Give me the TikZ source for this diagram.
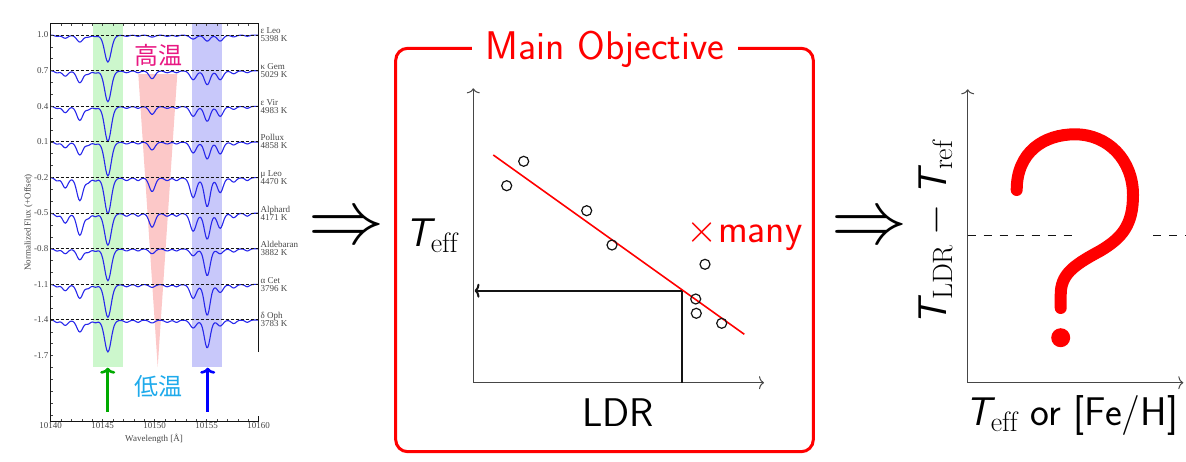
\RequirePackage{fix-cm}
\documentclass[tikz,border=0pt]{standalone}
\usepackage{amsmath}
\usepackage{fontspec}
\usepackage{xcolor}
\newfontfamily\plotfont{Liberation Serif}
\newfontfamily\jpfont{Noto Sans CJK JP}
\usetikzlibrary{arrows.meta}
\definecolor{ldrRed}{RGB}{255,0,0}
\definecolor{ldrInk}{RGB}{20,20,20}
\definecolor{ldrAxis}{RGB}{70,70,70}
\definecolor{specBlue}{RGB}{40,40,235}
\definecolor{bandGreen}{RGB}{204,247,204}
\definecolor{bandBlue}{RGB}{200,200,250}
\definecolor{bandPink}{RGB}{252,200,200}
\definecolor{arrGreen}{RGB}{0,170,0}
\definecolor{arrBlue}{RGB}{0,0,255}
\definecolor{hotPink}{RGB}{232,24,130}
\definecolor{coolCyan}{RGB}{30,170,235}
\newcommand{\Tsf}{\textsf{\itshape T}}
\newcommand{\bigfont}{\fontsize{40}{47}\selectfont}
\tikzset{
  specline/.style={specBlue,line width=1.1pt},
  contline/.style={ldrInk,dashed,dash pattern=on 3pt off 2pt,line width=0.7pt},
  frameline/.style={ldrInk,line width=1.3pt},
  ticklab/.style={font=\plotfont\fontsize{9}{9}\selectfont,text=ldrAxis,inner sep=1pt},
  starlab/.style={font=\plotfont\fontsize{9}{8}\selectfont,text=ldrAxis,align=left,anchor=west,inner sep=1pt},
  axisline/.style={ldrAxis,line width=1pt,-{To[length=5pt,width=13pt]}},
  readline/.style={ldrInk,line width=2pt},
  datapt/.style={ldrInk,line width=1.2pt},
  bigsans/.style={font=\sffamily\bigfont,inner sep=0pt},
  thenarrow/.style={font=\fontsize{76}{76}\selectfont,inner sep=0pt},
  pickarrow/.style={line width=2.6pt,-{To[length=6pt,width=15pt]}},
  declare function={lc(\u,\c,\w)=min(abs(\u-\c)/\w,4);
    gp(\t)=1/(1+\t^2+\t^4/2+\t^6/6);
    lp(\u,\c,\w)=gp(lc(\u,\c,\w));}
}

\begin{document}
\begin{tikzpicture}[x=1pt,y=-1pt]
  \useasboundingbox (0,0) rectangle (1186,461);

  % spectra panel
  \fill[bandGreen] (93.3,23.3) rectangle (123.3,367.3);
  \fill[bandBlue] (192,23.3) rectangle (222,367.3);
  \fill[bandPink] (138.3,74) -- (177.3,74) -- (157.7,367) -- cycle;
  \foreach \base/\lA/\lB/\lC/\lD/\lE/\lF/\mf in {
      35/7/27/2/4/6/6/0.6, 70.6/12/31/8/9/14/9/1, 106.2/14/35/8/10/15/10/1,
      141.8/13/34/8/11/17/12/1, 177.4/23/36/14/20/29/15/1.5, 213/22/32/14/18/26/15/1.5,
      248.6/11/32/5/7/27/5/1.1, 284.2/14/33/3/14/31/8/1.2, 319.8/12/32/3/8/28/6/1.2} {
    \draw[specline] plot[domain=0:20,samples=201] ({50.7+10.4*\x},
      {\base+\mf*(2*lp(\x,0.6,0.3)+3*lp(\x,3.6,0.35)+2*lp(\x,4.3,0.3)
       +2*lp(\x,7.3,0.35)+2*lp(\x,8.4,0.3)+2*lp(\x,11.2,0.35)+2*lp(\x,12.1,0.3)
       +3*lp(\x,17.6,0.35)+2*lp(\x,18.9,0.3))
       +0.45*\lA*lp(\x,1.4,0.38)+\lA*lp(\x,2.8,0.42)+\lB*lp(\x,5.5,0.45)+\lC*lp(\x,9.75,0.4)
       +\lD*lp(\x,13.7,0.42)+\lE*lp(\x,15.05,0.4)+\lF*lp(\x,16.3,0.4)});
    \draw[contline] (50.7,\base) -- (258.7,\base);
  }
  \foreach \base/\nm/\tk [count=\i] in {35/ε Leo/5398, 70.6/κ Gem/5029, 106.2/ε Vir/4983,
      141.8/Pollux/4858, 177.4/μ Leo/4470, 213/Alphard/4171, 248.6/Aldebaran/3882,
      284.2/α Cet/3796, 319.8/δ Oph/3783}
    \node[starlab] (star\i) at (259.5,\base) {\nm\\\tk~K};
  \foreach \v [count=\k from 0] in {1.0,0.7,0.4,0.1,-0.2,-0.5,-0.8,-1.1,-1.4,-1.7}
    \node[ticklab,anchor=east] (yt\k) at (49.5,35+35.6*\k) {\v};
  \foreach \k in {-1,...,32}
    \draw[ldrAxis,line width=0.5pt] (50.7,35+11.87*\k) -- ++(2.5,0);
  \foreach \k in {1,...,19} {
    \draw[ldrAxis,line width=0.5pt] (50.7+10.4*\k,421.7) -- ++(0,-2.5);
    \draw[ldrAxis,line width=0.5pt] (50.7+10.4*\k,23.3) -- ++(0,2.5);
  }
  \foreach \w [count=\k from 0] in {10140,10145,10150,10155,10160}
    \node[ticklab,anchor=north] (xt\k) at (50.7+52*\k,421) {\w};
  \draw[frameline] (258.7,352) -- (258.7,23.3) -- (50.7,23.3) -- (50.7,421.7) -- (258.7,421.7) -- (258.7,416);
  \node[ticklab] (wavelab) at (154,439) {Wavelength [Å]};
  \node[ticklab,rotate=90] (fluxlab) at (28.3,222.5) {Normalized Flux (+Offset)};
  \node[font=\jpfont\fontsize{24}{24}\selectfont,text=hotPink,inner sep=0pt] (hot) at (158,55) {高温};
  \node[font=\jpfont\fontsize{24}{24}\selectfont,text=coolCyan,inner sep=0pt] (cool) at (158,386) {低温};
  \coordinate (gfoot) at (107.7,411.7);
  \coordinate (bfoot) at (207.7,411.7);
  \draw[pickarrow,arrGreen] (gfoot) -- ++(0,-44);
  \draw[pickarrow,arrBlue] (bfoot) -- ++(0,-44);

  % main objective panel
  \node[thenarrow] (then1) at (346.5,230) {$\Rightarrow$};
  \draw[ldrRed,line width=3pt,rounded corners=12pt] (395.7,48.3) rectangle (813.3,451.7);
  \node[bigsans,text=ldrRed,fill=white,inner xsep=14pt,inner ysep=2pt,anchor=base] (title) at (605,59.3) {Main Objective};
  \coordinate (mo) at (473.3,382.7);
  \draw[axisline] (mo) -- (473.3,88.3);
  \draw[axisline] (mo) -- (764,382.7);
  \draw[ldrRed,line width=1.6pt] (493.3,155) -- (744.3,334.3);
  \foreach \px/\py [count=\i] in {506.7/185.7, 523.7/161.3, 586.7/210.7, 612/245,
      705/264.3, 695.7/299, 696.3/313.3, 721.7/323.3}
    \draw[datapt] (\px,\py) circle[radius=5pt];
  \coordinate (ldrfoot) at (681.7,382.7);
  \coordinate (hit) at (681.7,290.7);
  \coordinate (teffhit) at (474.5,290.7);
  \draw[readline] (ldrfoot) -- (hit);
  \draw[readline,-{To[length=5pt,width=14pt]}] (hit) -- (teffhit);
  \node[bigsans,anchor=base west] (teff) at (405,246.7) {$\Tsf_{\mathrm{eff}}$};
  \node[bigsans,anchor=base] (ldr) at (618.3,426) {LDR};
  \node[bigsans,anchor=base west,text=ldrRed] (many) at (686.7,242.3) {$\times$many};

  % residual panel
  \node[thenarrow] (then2) at (869.5,229.3) {$\Rightarrow$};
  \coordinate (ro) at (967.7,382.7);
  \draw[axisline] (ro) -- (967.7,89.3);
  \draw[axisline] (ro) -- (1183.3,382.7);
  \draw[ldrInk,line width=0.9pt,dash pattern=on 8pt off 8pt] (967.7,235) -- (1073,235);
  \draw[ldrInk,line width=0.9pt,dash pattern=on 8pt off 8pt] (1153,235) -- (1186,235);
  \draw[ldrRed,line width=12pt,line cap=round] (1016.7,190) .. controls (1016.7,152) and (1044,134.3) .. (1075,134.3)
    .. controls (1108,134.3) and (1133,160) .. (1133,195)
    .. controls (1133,225) and (1122,238) .. (1100,251)
    .. controls (1072,266) and (1060.7,275) .. (1060.7,295) -- (1060.7,308);
  \fill[ldrRed] (1060.7,337.7) circle[radius=9.5pt];
  \node[bigsans,rotate=90,anchor=base] (dtlab) at (946.7,233) {$\Tsf_{\mathrm{LDR}}-\Tsf_{\mathrm{ref}}$};
  \node[bigsans,anchor=base west] (xlab) at (965,425) {$\Tsf_{\mathrm{eff}}$ or [Fe/H]};
\end{tikzpicture}
\end{document}
